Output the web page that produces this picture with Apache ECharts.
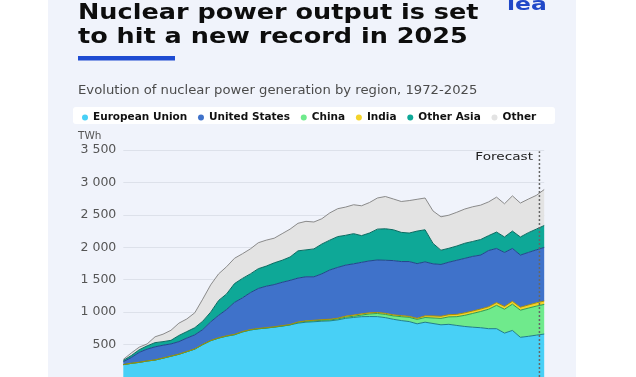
<!DOCTYPE html>
<html><head><meta charset="utf-8">
<script src="https://cdn.jsdelivr.net/npm/echarts@6/dist/echarts.min.js"></script>
<style>html,body{margin:0;padding:0;background:#fff;}#c{width:636px;height:377px;}</style>
</head><body><div id="c"></div>
<script>
const years = [];
for (let y = 1972; y <= 2025; y++) years.push(String(y));
const euValues = [190,210,225,246,261,290,320,350,390,430,500,560,600,630,652,695,725,743,755,769,785,804,830,845,852,860,865,880,905,918,930,932,931,915,890,870,855,820,845,825,805,812,795,779,768,760,745,745,677,718,612,627,645,662];
const chinaValues = [0,0,0,0,0,0,0,0,0,0,0,0,0,0,0,0,0,0,0,0,0,0,12,13,14,14,14,15,17,18,25,40,48,50,52,60,65,68,72,85,98,115,135,172,212,250,300,360,368,405,418,435,448,457];
const indiaValues = [2,2,2,2,3,3,2,3,3,3,2,3,4,5,5,5,6,5,6,5,7,5,6,8,9,10,11,12,17,19,19,18,17,17,17,17,15,17,26,32,33,34,36,38,38,38,39,42,43,44,46,48,50,52];
const usValues = [43,88,153,182,201,197,188,192,207,217,228,287,346,405,493,520,569,617,639,651,668,681,677,679,670,706,760,783,786,790,794,800,808,818,836,833,845,843,832,803,799,809,834,840,842,832,866,835,832,815,804,810,817,826];
const otherAsiaValues = [21,30,40,50,65,55,55,95,100,110,130,150,230,240,290,300,290,305,310,335,340,360,420,415,430,460,460,475,460,465,412,430,476,486,475,450,440,502,495,315,220,215,220,233,230,240,230,253,239,268,279,305,320,339];
const otherValues = [15,40,40,30,90,115,155,190,195,230,340,420,410,420,390,380,385,400,400,380,410,430,425,440,415,390,420,430,435,446,460,470,480,497,475,476,500,490,490,500,515,510,520,528,535,530,520,538,512,543,523,518,520,554];
const yTicks = [500,1000,1500,2000,2500,3000,3500];
const forecastStart = 2024.4;
const forecastTop = 3480;

const fmt = v => v >= 1000 ? Math.floor(v/1000) + ' ' + String(v%1000).padStart(3,'0') : String(v);

const defs = [
  {name:'European Union', data:euValues, color:'#48d0f6', line:'#1f7d8c'},
  {name:'China', data:chinaValues, color:'#6fea8c', line:'#2b9b55'},
  {name:'India', data:indiaValues, color:'#f4d32a', line:'#a88e05'},
  {name:'United States', data:usValues, color:'#3f72ca', line:'#22468c'},
  {name:'Other Asia', data:otherAsiaValues, color:'#0ea897', line:'#0a6b60'},
  {name:'Other', data:otherValues, color:'#e3e3e3', line:'#8a8a8a'}
];
const series = defs.map(d => ({
  name: d.name, type: 'line', stack: 'total', symbol: 'none', smooth: false,
  data: d.data,
  lineStyle: {width: 1, color: d.line},
  itemStyle: {color: d.color, borderColor: d.line},
  areaStyle: {color: d.color, opacity: 1},
  z: 2
}));
series.push({
  name: 'forecast', type: 'line', xAxisIndex: 1, symbol: 'none', silent: true, z: 5,
  data: [[forecastStart, 0], [forecastStart, forecastTop]],
  lineStyle: {type: [2, 2], color: '#666', width: 1.5}
});

const chart = echarts.init(document.getElementById('c'), null, {renderer: 'canvas'});
chart.setOption({
  backgroundColor: '#ffffff',
  animation: false,
  graphic: [
    {type:'rect', left: 48, top: 0, shape:{width: 528, height: 377}, style:{fill:'#f0f3fb'}, z: -10},
    {type:'rect', left: 73, top: 107, shape:{width: 482, height: 17, r: 3}, style:{fill:'#ffffff'}, z: -5},
    {type:'text', x: 78, y: 0.8, scaleX: 1.16, style:{x: 0, y: 0, text:'Nuclear power output is set\nto hit a new record in 2025', font:'bold 22px "DejaVu Sans"', fill:'#0d0d0d', lineHeight: 24.4}},
    {type:'text', x: 507, y: -3.2, scaleX: 1.3, style:{x: 0, y: 0, text:'iea', font:'bold 18px "DejaVu Sans"', fill:'#2048c8'}},
    {type:'rect', left: 78, top: 56, shape:{width: 97, height: 4.5}, style:{fill:'#1e4bd2'}},
    {type:'text', x: 78, y: 84.7, scaleX: 1.147, style:{x: 0, y: 0, text:'Evolution of nuclear power generation by region, 1972-2025', font:'400 11.5px "DejaVu Sans"', fill:'#4b4b4b'}},
    {type:'text', left: 78, top: 131, style:{text:'TWh', font:'400 10.5px "DejaVu Sans"', fill:'#555'}},
    {type:'text', x: 533, y: 151.3, scaleX: 1.24, style:{x: 0, y: 0, text:'Forecast', font:'500 11px "DejaVu Sans"', fill:'#222', align:'right'}}
  ],
  legend: {
    left: 77, top: 107, itemWidth: 6, itemHeight: 6, itemGap: 10.8, icon: 'circle',
    data: ['European Union','United States','China','India','Other Asia','Other'],
    textStyle: {fontFamily: 'DejaVu Sans', fontWeight: 700, fontSize: 10.5, color: '#111'}
  },
  grid: {left: 123.3, right: 91.8, top: 150, height: 229.5},
  xAxis: [
    {type: 'category', data: years, boundaryGap: false, show: false},
    {type: 'value', min: 1972, max: 2025, show: false}
  ],
  yAxis: {
    type: 'value', min: 0, max: 3500, interval: 500,
    axisLine: {show: false}, axisTick: {show: false},
    axisLabel: {fontFamily: 'DejaVu Sans', fontSize: 12.5, color: '#555', margin: 7, formatter: v => yTicks.includes(v) ? fmt(v) : ''},
    splitLine: {lineStyle: {color: '#dde1ea', width: 1}}
  },
  series: series
});
</script></body></html>
